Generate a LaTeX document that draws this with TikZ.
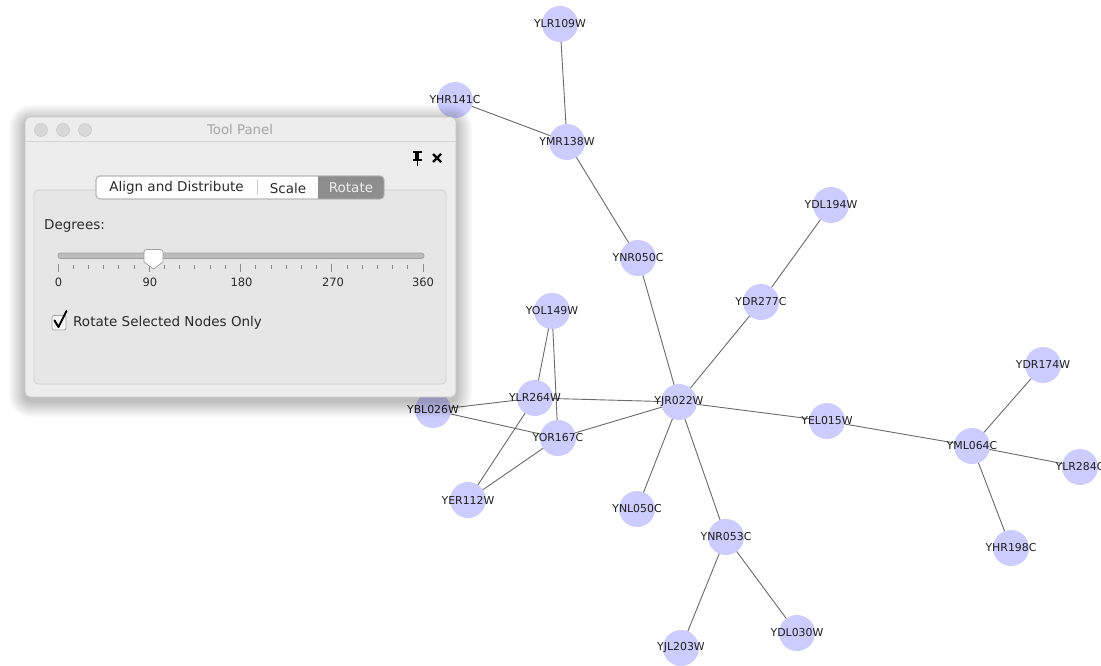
\documentclass[tikz,border=0pt]{standalone}
\usepackage{fontspec}
\setmainfont{DejaVu Sans}
\usetikzlibrary{backgrounds}
\definecolor{nodefill}{HTML}{CCCCFF}
\definecolor{labeltext}{HTML}{1E1E1E}
\definecolor{edgecol}{HTML}{6A6A6A}
\definecolor{winbg}{HTML}{EDEDED}
\definecolor{winborder}{HTML}{C6C6C6}
\definecolor{sepline}{HTML}{D6D6D6}
\definecolor{boxbg}{HTML}{E6E6E6}
\definecolor{boxborder}{HTML}{CDCDCD}
\definecolor{tabsel}{HTML}{8E8E8E}
\definecolor{tabborder}{HTML}{B2B2B2}
\definecolor{tabsep}{HTML}{C8C8C8}
\definecolor{lightgraytext}{HTML}{A6A6A6}
\definecolor{paneltext}{HTML}{2A2A2A}
\definecolor{lightfill}{HTML}{D8D8D8}
\definecolor{trackfill}{HTML}{BDBDBD}
\definecolor{trackborder}{HTML}{9E9E9E}
\definecolor{tickcol}{HTML}{8A8A8A}
\definecolor{checkborder}{HTML}{A8A8A8}
\definecolor{checkfill}{HTML}{F6F6F6}
\tikzset{
  gnode/.style={circle, fill=nodefill, draw=none, minimum size=36pt, inner sep=0pt},
  glabel/.style={font=\fontsize{10.9}{12}\selectfont, text=labeltext, inner sep=0pt},
  edge/.style={draw=edgecol, line width=0.9pt},
  ptext/.style={font=\fontsize{13.5}{15}\selectfont, text=paneltext, inner sep=0pt},
  numtext/.style={font=\fontsize{11.5}{13}\selectfont, text=paneltext, inner sep=0pt},
  light/.style={circle, fill=lightfill, draw=winborder, line width=0.5pt, minimum size=13pt, inner sep=0pt},
}
\begin{document}
\begin{tikzpicture}[x=1pt,y=-1pt]
\useasboundingbox (0,0) rectangle (1101,666);
% ---------------- graph nodes ----------------
\node[gnode, label={[glabel]center:YLR109W}] (ylr109w) at (560,24) {};
\node[gnode, label={[glabel]center:YMR138W}] (ymr138w) at (567,142) {};
\node[gnode, label={[glabel]center:YHR141C}] (yhr141c) at (455,100) {};
\node[gnode, label={[glabel]center:YNR050C}] (ynr050c) at (638,258) {};
\node[gnode, label={[glabel]center:YDL194W}] (ydl194w) at (831,205) {};
\node[gnode, label={[glabel]center:YDR277C}] (ydr277c) at (761,302) {};
\node[gnode, label={[glabel]center:YOL149W}] (yol149w) at (552,311) {};
\node[gnode, label={[glabel]center:YLR264W}] (ylr264w) at (535,398) {};
\node[gnode, label={[glabel]center:YBL026W}] (ybl026w) at (433,410) {};
\node[gnode, label={[glabel]center:YOR167C}] (yor167c) at (558,438) {};
\node[gnode, label={[glabel]center:YER112W}] (yer112w) at (468,500) {};
\node[gnode, label={[glabel]center:YJR022W}] (yjr022w) at (679,402) {};
\node[gnode, label={[glabel]center:YNL050C}] (ynl050c) at (637,509) {};
\node[gnode, label={[glabel]center:YNR053C}] (ynr053c) at (726,537) {};
\node[gnode, label={[glabel]center:YJL203W}] (yjl203w) at (681,648) {};
\node[gnode, label={[glabel]center:YDL030W}] (ydl030w) at (797,633) {};
\node[gnode, label={[glabel]center:YEL015W}] (yel015w) at (827,421) {};
\node[gnode, label={[glabel]center:YML064C}] (yml064c) at (972,446) {};
\node[gnode, label={[glabel]center:YDR174W}] (ydr174w) at (1043,365) {};
\node[gnode, label={[glabel]center:YLR284C}] (ylr284c) at (1080,467) {};
\node[gnode, label={[glabel]center:YHR198C}] (yhr198c) at (1011,548) {};
% ---------------- edges (behind) ----------------
\begin{pgfonlayer}{background}
\fill[white] (0,0) rectangle (1101,666);
\draw[edge] (ylr109w.center) -- (ymr138w.center);
\draw[edge] (yhr141c.center) -- (ymr138w.center);
\draw[edge] (ymr138w.center) -- (ynr050c.center);
\draw[edge] (ynr050c.center) -- (yjr022w.center);
\draw[edge] (ydl194w.center) -- (ydr277c.center);
\draw[edge] (ydr277c.center) -- (yjr022w.center);
\draw[edge] (yol149w.center) -- (ylr264w.center);
\draw[edge] (yol149w.center) -- (yor167c.center);
\draw[edge] (ybl026w.center) -- (ylr264w.center);
\draw[edge] (ybl026w.center) -- (yor167c.center);
\draw[edge] (ylr264w.center) -- (yjr022w.center);
\draw[edge] (ylr264w.center) -- (yer112w.center);
\draw[edge] (yor167c.center) -- (yer112w.center);
\draw[edge] (yor167c.center) -- (yjr022w.center);
\draw[edge] (yjr022w.center) -- (ynl050c.center);
\draw[edge] (yjr022w.center) -- (ynr053c.center);
\draw[edge] (yjr022w.center) -- (yel015w.center);
\draw[edge] (yel015w.center) -- (yml064c.center);
\draw[edge] (yml064c.center) -- (ydr174w.center);
\draw[edge] (yml064c.center) -- (ylr284c.center);
\draw[edge] (yml064c.center) -- (yhr198c.center);
\draw[edge] (ynr053c.center) -- (yjl203w.center);
\draw[edge] (ynr053c.center) -- (ydl030w.center);
\end{pgfonlayer}
% ---------------- tool panel window ----------------
% soft shadow
\foreach \s in {1,...,16} {
  \fill[black, opacity=0.016, rounded corners=6pt+\s pt]
    (25-\s, 121-\s) rectangle (456+\s, 401+\s);
}
\path[fill=winbg, draw=winborder, line width=0.6pt, rounded corners=5pt]
  (25,117) rectangle (456,397);
\draw[sepline, line width=0.8pt] (25.5,141) -- (455.5,141);
\node[light] (l1) at (41,130) {};
\node[light] (l2) at (63,130) {};
\node[light] (l3) at (85,130) {};
\node[font=\fontsize{13.3}{15}\selectfont, text=lightgraytext, inner sep=0pt] (title) at (240,130) {Tool Panel};
% pin icon
\fill[black] (412.5,151.5) rectangle (421.5,153.5);
\fill[black] (414.8,153.5) rectangle (419.2,159.5);
\fill[black] (412.5,159.5) rectangle (421.5,161);
\draw[black, line width=1pt] (417,161) -- (417,166);
% close icon
\draw[black, line width=2.3pt] (433,154) -- (441,162) (441,154) -- (433,162);
% group box
\draw[fill=boxbg, draw=boxborder, line width=0.7pt, rounded corners=4pt] (34,190) rectangle (446,384);
% tab bar
\draw[fill=white, draw=tabborder, line width=0.7pt, rounded corners=4pt] (96,176) rectangle (384,199);
\begin{scope}
\clip[rounded corners=4pt] (96,176) rectangle (384,199);
\fill[tabsel] (318,176) rectangle (384,199);
\end{scope}
\draw[tabborder, line width=0.7pt, rounded corners=4pt] (96,176) rectangle (384,199);
\draw[tabsep, line width=0.8pt] (257,180) -- (257,195);
\node[ptext] (tab1) at (176.5,188) {Align and Distribute};
\node[ptext] (tab2) at (288,188) {Scale};
\node[ptext, text=white!93!black] (tab3) at (351,188) {Rotate};
% degrees
\node[ptext, anchor=west] (deg) at (44,225.5) {Degrees:};
% slider track
\draw[fill=trackfill, draw=trackborder, line width=0.6pt, rounded corners=2.3pt] (58,253) rectangle (424,258.5);
% ticks
\foreach \i in {0,...,24} {
  \pgfmathsetmacro{\tx}{58+\i*15.2083}
  \pgfmathtruncatemacro{\m}{mod(\i,6)}
  \ifnum\m=0
    \draw[tickcol, line width=0.8pt] (\tx,263.5) -- (\tx,271.5);
  \else
    \draw[tickcol, line width=0.8pt] (\tx,265) -- (\tx,269);
  \fi
}
\node[numtext] (n0) at (58.5,282) {0};
\node[numtext] (n90) at (150,282) {90};
\node[numtext] (n180) at (241.5,282) {180};
\node[numtext] (n270) at (333,282) {270};
\node[numtext] (n360) at (423,282) {360};
% slider thumb
\draw[fill=white, draw=trackborder, line width=0.7pt, line join=round]
  (144,262) -- (144,252) arc[start angle=180, end angle=90, radius=2.5pt] -- (160.5,249.5)
  arc[start angle=90, end angle=0, radius=2.5pt] -- (163,262) -- (153.5,269) -- cycle;
% checkbox
\draw[fill=checkfill, draw=checkborder, line width=0.7pt, rounded corners=2pt] (52,315.5) rectangle (66,330);
\draw[black, line width=2pt, line cap=round, line join=round] (54.5,320.5) -- (58.5,327) -- (66.5,311);
\node[ptext, anchor=west] (chk) at (73,322.5) {Rotate Selected Nodes Only};
\end{tikzpicture}
\end{document}
